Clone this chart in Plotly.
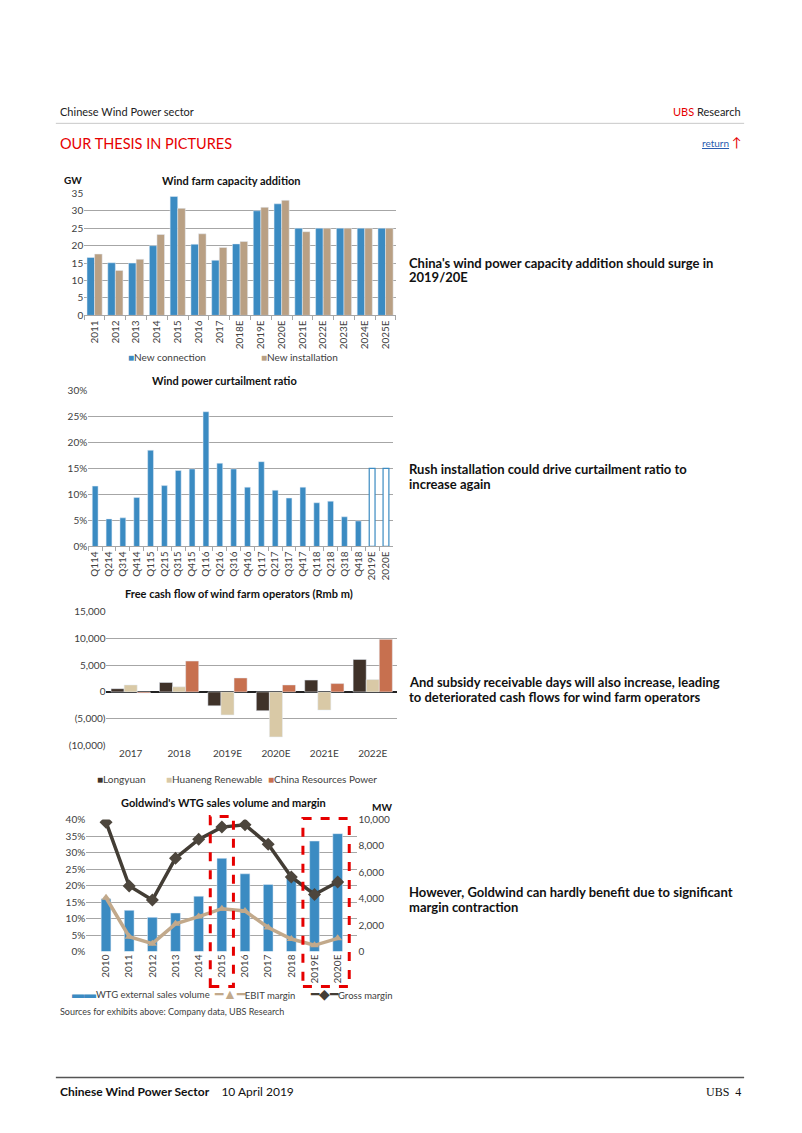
import plotly.graph_objects as go

# Page placement: body margin 8px; the photographed page appears shrunk ~1.2% about its centre,
# so positions are mapped through that to land on the reference's pixel positions.
OFF = 8
W, H = 780, 1110
S, CX, CY = 0.988, 401.0, 566.5
def X(px): return (CX + (px - CX) / S - OFF) / W
def Y(py): return 1 - (CY + (py - CY) / S - OFF) / H

FONT = "Lato"
TXT = "#333333"
GRID = "#a6a6a6"
BLUE = "#3b8bc2"
TAN = "#b9a084"
LY_COL = "#3f3229"
HN_COL = "#d9c9a6"
CRP_COL = "#c7704f"
EBIT_COL = "#c2a98b"
GM_COL = "#433d35"

# ---------------- Data ----------------
cap_years = ["2011", "2012", "2013", "2014", "2015", "2016", "2017", "2018E",
             "2019E", "2020E", "2021E", "2022E", "2023E", "2024E", "2025E"]
new_connection = [16.6, 15.1, 15.0, 20.0, 34.1, 20.4, 15.8, 20.5, 30.0, 32.0, 25.0, 25.0, 25.0, 25.0, 25.0]
new_installation = [17.6, 12.9, 16.1, 23.2, 30.7, 23.4, 19.5, 21.2, 31.0, 33.0, 24.0, 25.0, 25.0, 25.0, 25.0]

curt_quarters = ["Q114", "Q214", "Q314", "Q414", "Q115", "Q215", "Q315", "Q415",
                 "Q116", "Q216", "Q316", "Q416", "Q117", "Q217", "Q317", "Q417",
                 "Q118", "Q218", "Q318", "Q418"]
curt_actual = [11.6, 5.3, 5.5, 9.4, 18.5, 11.7, 14.6, 14.9, 25.9, 16.0, 14.9, 11.4,
               16.3, 10.8, 9.3, 11.4, 8.4, 8.7, 5.7, 4.9]
curt_fc_years = ["2019E", "2020E"]
curt_forecast = [15.0, 15.0]

fcf_years = ["2017", "2018", "2019E", "2020E", "2021E", "2022E"]
longyuan = [600, 1750, -2600, -3500, 2200, 6050]
huaneng = [1300, 950, -4300, -8400, -3400, 2300]
crp = [-200, 5750, 2600, 1300, 1550, 9800]
fcf_ticks = [15000, 10000, 5000, 0, -5000, -10000]
fcf_ticklabels = ["15,000", "10,000", "5,000", "0", "(5,000)", "(10,000)"]

gw_years = ["2010", "2011", "2012", "2013", "2014", "2015", "2016", "2017", "2018", "2019E", "2020E"]
wtg_volume = [4000, 3120, 2590, 2920, 4190, 7060, 5890, 5080, 5600, 8370, 8930]
ebit_margin = [16.3, 4.5, 2.4, 8.4, 10.6, 13.0, 12.3, 7.3, 3.8, 1.9, 4.0]
gross_margin = [39.2, 19.9, 15.6, 28.3, 34.0, 37.7, 38.4, 32.5, 22.6, 17.3, 21.1]

fig = go.Figure()

# ---------------- Chart 1 ----------------
fig.add_trace(go.Bar(x=cap_years, y=new_connection, name="New connection",
                     marker_color=BLUE, xaxis="x", yaxis="y", showlegend=False,
                     width=0.365, offset=-0.365))
fig.add_trace(go.Bar(x=cap_years, y=new_installation, name="New installation",
                     marker_color=TAN, xaxis="x", yaxis="y", showlegend=False,
                     width=0.365, offset=0.0))

# ---------------- Chart 2 ----------------
fig.add_trace(go.Bar(x=curt_quarters, y=curt_actual, marker_color=BLUE, name="Actual",
                     xaxis="x2", yaxis="y2", showlegend=False, width=0.42, offset=-0.21))
fig.add_trace(go.Bar(x=curt_fc_years, y=curt_forecast, marker_color="white", name="Forecast",
                     marker_line_color=BLUE, marker_line_width=1.2,
                     xaxis="x2", yaxis="y2", showlegend=False, width=0.42, offset=-0.21))

# ---------------- Chart 3 ----------------
fig.add_trace(go.Bar(x=fcf_years, y=longyuan, name="Longyuan", marker_color=LY_COL,
                     xaxis="x3", yaxis="y3", showlegend=False, width=0.27, offset=-0.405))
fig.add_trace(go.Bar(x=fcf_years, y=huaneng, name="Huaneng Renewable", marker_color=HN_COL,
                     xaxis="x3", yaxis="y3", showlegend=False, width=0.27, offset=-0.135))
fig.add_trace(go.Bar(x=fcf_years, y=crp, name="China Resources Power", marker_color=CRP_COL,
                     xaxis="x3", yaxis="y3", showlegend=False, width=0.27, offset=0.135))

# ---------------- Chart 4 ----------------
fig.add_trace(go.Bar(x=gw_years, y=wtg_volume, name="WTG external sales volume",
                     marker_color=BLUE, xaxis="x4", yaxis="y4", showlegend=False,
                     width=0.42, offset=-0.21))
fig.add_trace(go.Scatter(x=gw_years, y=ebit_margin, name="EBIT margin", mode="lines+markers",
                         line=dict(color=EBIT_COL, width=3.5),
                         marker=dict(symbol="triangle-up", size=8, color=EBIT_COL),
                         xaxis="x4", yaxis="y5", showlegend=False))
fig.add_trace(go.Scatter(x=gw_years, y=gross_margin, name="Gross margin", mode="lines+markers",
                         line=dict(color=GM_COL, width=3.5),
                         marker=dict(symbol="diamond", size=10, color="#4d463d"),
                         xaxis="x4", yaxis="y5", showlegend=False))

tickfont = dict(family=FONT, size=10, color="#404040")

def cat_axis(dom, anchor, angle=-90, **kw):
    d = dict(domain=[X(dom[0]), X(dom[1])], anchor=anchor, type="category",
             tickangle=angle, tickfont=tickfont, showgrid=False, fixedrange=True)
    d.update(kw)
    return d

def val_axis(dom, anchor, rng, dtick, **kw):
    d = dict(domain=[Y(dom[1]), Y(dom[0])], anchor=anchor, range=rng, dtick=dtick,
             tickfont=tickfont, showgrid=True, gridcolor=GRID, gridwidth=1,
             zeroline=False, showline=False, ticks="", fixedrange=True)
    d.update(kw)
    return d

fig.update_layout(
    width=W, height=H, margin=dict(l=0, r=0, t=0, b=0),
    paper_bgcolor="white", plot_bgcolor="rgba(0,0,0,0)",
    font=dict(family=FONT, color=TXT),
    barmode="overlay",
    xaxis=cat_axis((88, 396), "y", showline=True, linecolor=GRID, ticks="outside",
                   tickson="boundaries", ticklen=4, tickcolor=GRID),
    yaxis=val_axis((193, 315), "x", [0, 35], 5),
    xaxis2=cat_axis((92, 393), "y2", showline=True, linecolor=GRID, ticks="outside",
                    tickson="boundaries", ticklen=4, tickcolor=GRID),
    yaxis2=val_axis((390, 546), "x2", [0, 30], 5, ticksuffix="%"),
    xaxis3=cat_axis((110, 397), "y3", angle=0),
    yaxis3=val_axis((611, 745), "x3", [-10000, 15000], None, tickvals=fcf_ticks,
                    ticktext=fcf_ticklabels, zeroline=True, zerolinecolor="#222222",
                    zerolinewidth=1.5),
    xaxis4=cat_axis((90, 358), "y4"),
    yaxis4=val_axis((819, 951), "x4", [0, 10000], 2000, side="right", showgrid=False,
                    tickformat=","),
    yaxis5=val_axis((819, 951), "x4", [0, 40], 5, overlaying="y4", side="left",
                    ticksuffix="%"),
)

ann = []
def text(x, y, s, size=10, color=TXT, bold=False, xanchor="left", family=FONT, yanchor="middle"):
    if bold:
        s = "<b>" + s + "</b>"
    ann.append(dict(x=X(x), y=Y(y), xref="paper", yref="paper", text=s, showarrow=False,
                    xanchor=xanchor, yanchor=yanchor, align="left",
                    font=dict(family=family, size=size, color=color)))

def sw(color, glyph="■", size=None):
    style = "color:%s" % color
    if size:
        style += ";font-size:%dpx" % size
    return "<span style='%s'>%s</span>" % (style, glyph)

# header
text(62, 111, "Chinese Wind Power sector", size=11, color="#222222")
text(739, 111, "<span style='color:#e60000'>UBS</span> Research", size=11, color="#222222", xanchor="right")
text(62, 143, "OUR THESIS IN PICTURES", size=14.5, color="#e60000")
text(727, 143, "<u>return</u>", size=10, color="#2a5db0", xanchor="right")
text(740, 142, "↑", size=13, color="#e60000", xanchor="right")

# chart titles
text(234, 180, "Wind farm capacity addition", size=11, color="#111111", bold=True, xanchor="center")
text(66, 180, "GW", size=10, color="#111111", bold=True)
text(227, 380, "Wind power curtailment ratio", size=11, color="#111111", bold=True, xanchor="center")
text(241, 593, "Free cash flow of wind farm operators (Rmb m)", size=11, color="#111111", bold=True, xanchor="center")
text(226, 802, "Goldwind's WTG sales volume and margin", size=11, color="#111111", bold=True, xanchor="center")
text(370, 806, "MW", size=10, color="#111111", bold=True)

# legends
LEG = "#404040"
text(129, 357, sw(BLUE) + "New connection", size=10, color=LEG)
text(261, 357, sw(TAN) + "New installation", size=10, color=LEG)
text(99, 778, sw(LY_COL) + "Longyuan", size=10, color=LEG)
text(167, 778, sw(HN_COL) + "Huaneng Renewable", size=10, color=LEG)
text(268, 778, sw(CRP_COL) + "China Resources Power", size=10, color=LEG)
text(74, 993, sw(BLUE, "▬▬", 12) + "WTG external sales volume", size=9.5, color=LEG)
text(214, 993, sw(EBIT_COL, "━▲━", 14) + "EBIT margin", size=9.5, color=LEG)
text(309, 993, sw(GM_COL, "━◆━", 14) + "Gross margin", size=9.5, color=LEG)

text(62, 1011, "Sources for exhibits above: Company data, UBS Research", size=9, color="#404040")

# side comments
side = [
    (263, "China's wind power capacity addition should surge in"),
    (277, "2019/20E"),
    (469, "Rush installation could drive curtailment ratio to"),
    (484, "increase again"),
    (682, "And subsidy receivable days will also increase, leading"),
    (697, "to deteriorated cash flows for wind farm operators"),
    (891, "However, Goldwind can hardly benefit due to significant"),
    (906, "margin contraction"),
]
for yy, s in side:
    text(407, yy, s, size=13, color="#111111", bold=True)

# footer
text(62, 1091, "<b>Chinese Wind Power Sector</b>    10 April 2019", size=12, color="#111111")
text(739, 1091, "UBS  4", size=12, color="#111111", xanchor="right", family="Liberation Serif")

fig.update_layout(annotations=ann)

shapes = [
    dict(type="line", xref="paper", yref="paper", x0=X(60), x1=X(740), y0=Y(123), y1=Y(123),
         line=dict(color="#c8c8c8", width=1)),
    dict(type="line", xref="paper", yref="paper", x0=X(60), x1=X(740), y0=Y(1077), y1=Y(1077),
         line=dict(color="#555555", width=1.5)),
    dict(type="rect", xref="x4", yref="paper", x0=4.5, x1=5.5, y0=Y(986), y1=Y(816),
         line=dict(color="#e60000", width=3, dash="dash")),
    dict(type="rect", xref="x4", yref="paper", x0=8.5, x1=10.5, y0=Y(986), y1=Y(818),
         line=dict(color="#e60000", width=3, dash="dash")),
]
fig.update_layout(shapes=shapes)

fig.write_html("out.html")
